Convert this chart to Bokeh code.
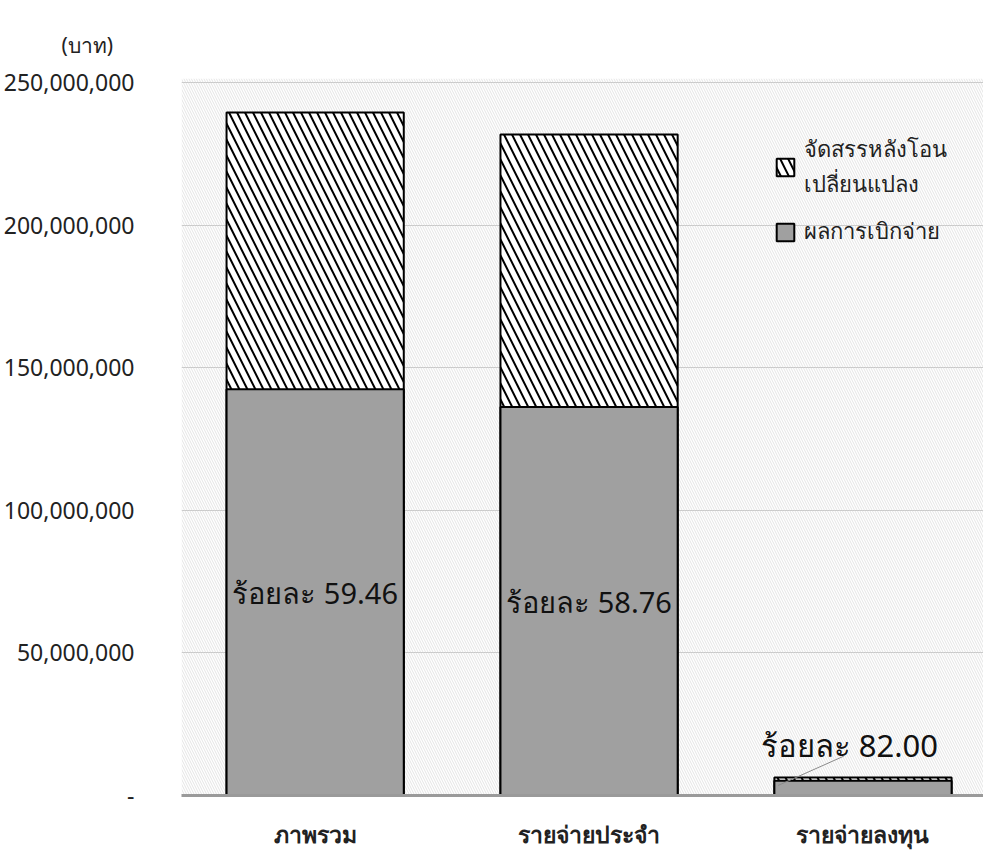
from bokeh.plotting import figure
from bokeh.models import (Range1d, FixedTicker, NumeralTickFormatter, BoxAnnotation,
                          Legend, LegendItem, Title, ColumnDataSource)
from bokeh.core.properties import value
from bokeh.embed import file_html
from bokeh.resources import INLINE

# ---- data ----
categories = ["ภาพรวม", "รายจ่ายประจำ", "รายจ่ายลงทุน"]
allocated = [239_500_000, 231_800_000, 6_300_000]
disbursed = [142_400_000, 136_200_000, 5_170_000]
pct_labels = ["ร้อยละ 59.46", "ร้อยละ 58.76", "ร้อยละ 82.00"]
y_ticks = [0, 50_000_000, 100_000_000, 150_000_000, 200_000_000, 250_000_000]
legend_labels = ["จัดสรรหลังโอน\nเปลี่ยนแปลง", "ผลการเบิกจ่าย"]
y_unit = "(บาท)"

FONT = "Noto Sans"
xs = list(range(len(categories)))

p = figure(width=983, height=852, output_backend="svg", toolbar_location=None,
           x_range=Range1d(-0.488, 2.440), y_range=Range1d(0, 251_400_000),
           min_border_left=178, min_border_right=0, min_border_top=78,
           min_border_bottom=54, outline_line_color=None)

# patterned background
bg = BoxAnnotation(fill_alpha=0, line_color=None, hatch_pattern="\\",
                   hatch_color="#d2d2d2", hatch_scale=5, hatch_weight=0.6,
                   level="underlay")
p.add_layout(bg)

src = ColumnDataSource(dict(x=xs, alloc=allocated, disb=disbursed))
r1 = p.vbar(x="x", top="alloc", bottom=0, width=0.647, source=src,
            fill_color="white", line_color="black", line_width=2,
            hatch_pattern="\\", hatch_color="black", hatch_scale=16, hatch_weight=2)
r2 = p.vbar(x="x", top="disb", bottom=0, width=0.647, source=src,
            fill_color="#a0a0a0", line_color="black", line_width=2)

# percentage labels
lx = [xs[0], xs[1], xs[2] - 0.05]
ly = [disbursed[0] / 2, disbursed[1] / 2, allocated[2] + 11_500_000]
lsize = ["29px", "29px", "31px"]
p.text(x=lx, y=ly, text=pct_labels, text_align="center", text_baseline="middle",
       text_font=value(FONT), text_font_size=lsize, text_color="#111111")
# leader line for the small bar
p.line(x=[xs[2] - 0.31, xs[2] - 0.07], y=[disbursed[2] * 0.68, allocated[2] + 7_500_000],
       line_color="#8a8a8a", line_width=1)

# axes
p.xaxis.ticker = FixedTicker(ticks=xs)
p.xaxis.major_label_overrides = {i: c for i, c in enumerate(categories)}
p.xaxis.major_label_text_font = FONT
p.xaxis.major_label_text_font_size = "23px"
p.xaxis.major_label_text_font_style = "bold"
p.xaxis.major_label_text_color = "#222222"
p.xaxis.major_label_standoff = 16
p.xaxis.axis_line_color = "#9a9a9a"
p.xaxis.axis_line_width = 3
p.xaxis.major_tick_line_color = None
p.xaxis.minor_tick_line_color = None

p.yaxis.ticker = FixedTicker(ticks=y_ticks)
p.yaxis.formatter = NumeralTickFormatter(format="0,0")
p.yaxis.major_label_overrides = {0: "-"}
p.yaxis.major_label_text_font = FONT
p.yaxis.major_label_text_font_size = "23px"
p.yaxis.major_label_text_color = "#222222"
p.yaxis.major_label_standoff = 41
p.yaxis.axis_line_color = None
p.yaxis.major_tick_line_color = None
p.yaxis.minor_tick_line_color = None

p.xgrid.grid_line_color = None
p.ygrid.grid_line_color = "#cacaca"
p.ygrid.grid_line_width = 1

legend = Legend(items=[LegendItem(label=legend_labels[0], renderers=[r1]),
                       LegendItem(label=legend_labels[1], renderers=[r2])],
                location=(593, 546), background_fill_alpha=0, border_line_color=None,
                label_text_font=FONT, label_text_font_size="22px",
                label_text_line_height=1.6,
                label_text_color="#222222", glyph_width=22, glyph_height=22,
                spacing=12, margin=0, padding=10, label_standoff=8)
p.add_layout(legend)

p.add_layout(Title(text=y_unit, align="left", offset=-120, text_font=FONT,
                   text_font_size="21px", text_font_style="normal",
                   text_color="#222222", standoff=36, vertical_align="top"), "above")

open("out.html", "w").write(file_html(p, INLINE))
